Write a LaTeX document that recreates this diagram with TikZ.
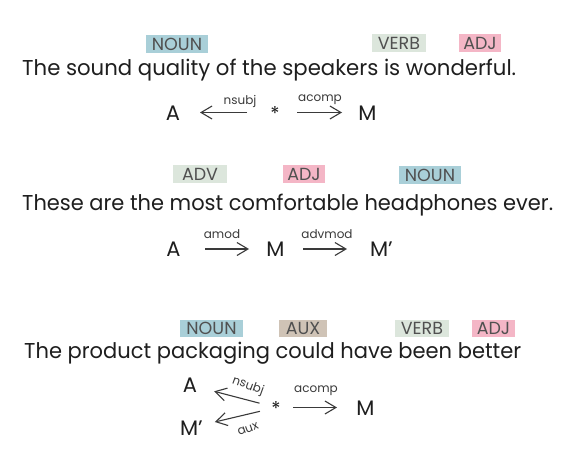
\documentclass[tikz,border=0pt]{standalone}
\usepackage{fontspec}
\setmainfont{Poppins}
\usepackage{graphicx}
\usetikzlibrary{arrows.meta}
\definecolor{nounc}{HTML}{A9CFD8}
\definecolor{verbc}{HTML}{DCE6DC}
\definecolor{adjc}{HTML}{F4B6C6}
\definecolor{auxc}{HTML}{CFC3B6}
\definecolor{tagtxt}{HTML}{505050}
\definecolor{maintxt}{HTML}{1E1E1E}
\definecolor{arrc}{HTML}{3A3A3A}
\newcommand\fitto[2]{\setbox0=\hbox{#2}\pgfmathsetmacro\fitsx{#1/\the\wd0}\scalebox{\fitsx}[1]{\box0}}
\begin{document}
\begin{tikzpicture}[x=1pt,y=-1pt,
  tag/.style={inner sep=0pt, minimum height=18pt, text=tagtxt, font=\fontsize{17.5}{17.5}\selectfont, text height=12.3pt, text depth=0pt},
  sent/.style={inner sep=0pt, anchor=base west, text=maintxt, font=\fontsize{21.5}{21.5}\selectfont},
  lett/.style={inner sep=0pt, text=maintxt, font=\fontsize{21}{21}\selectfont, text height=15pt, text depth=0pt},
  lbl/.style={inner sep=0pt, text=arrc, font=\fontsize{12}{12}\selectfont},
  starn/.style={inner sep=0pt, text=maintxt, font=\fontsize{19}{19}\selectfont, text height=0pt, text depth=0pt},
  arr/.style={draw=arrc, line width=1.1pt, -{Straight Barb[length=11pt,width=13pt,line width=1.1pt]}}
]
\useasboundingbox (0,0) rectangle (572,463);
\fill[white] (0,0) rectangle (572,463);

% ---------- sentence 1
\node[tag,fill=nounc,minimum width=62pt] (r1n) at (177,44) {NOUN};
\node[tag,fill=verbc,minimum width=54pt] (r1v) at (399,43) {VERB};
\node[tag,fill=adjc,minimum width=42pt] (r1j) at (480,43) {ADJ};
\node[sent] (s1) at (22,75) {\fitto{494}{The sound quality of the speakers is wonderful.}};
\node[lett] (a1) at (173,112.5) {A};
\node[starn] (st1) at (275,112.5) {\raisebox{-8.3pt}{*}};
\node[lett] (m1) at (367.5,112.5) {M};
\draw[arr, shorten <=28pt, shorten >=27pt] (st1.center) -- (a1.center);
\draw[arr, shorten <=22pt, shorten >=25.5pt] (st1.center) -- (m1.center);
\node[lbl, anchor=base] (l1a) at (240,104) {nsubj};
\node[lbl, anchor=base] (l1b) at (320,101) {acomp};

% ---------- sentence 2
\node[tag,fill=verbc,minimum width=54pt] (r2v) at (200,174) {ADV};
\node[tag,fill=adjc,minimum width=42pt] (r2j) at (304,174) {ADJ};
\node[tag,fill=nounc,minimum width=62pt] (r2n) at (430,175) {NOUN};
\node[sent] (s2) at (22,210) {\fitto{531}{These are the most comfortable headphones ever.}};
\node[lett] (a2) at (173.5,249) {A};
\node[lett] (m2) at (275.5,249) {M};
\node[lett] (m2p) at (381.5,249) {M'};
\draw[arr, shorten <=31.5pt, shorten >=26.5pt] (a2.center) -- (m2.center);
\draw[arr, shorten <=27.5pt, shorten >=34.5pt] (m2.center) -- (m2p.center);
\node[lbl, anchor=base] (l2a) at (222,238.5) {amod};
\node[lbl, anchor=base] (l2b) at (327,238.5) {advmod};

% ---------- sentence 3
\node[tag,fill=nounc,minimum width=63pt,minimum height=17pt] (r3n) at (211.5,328.5) {NOUN};
\node[tag,fill=auxc,minimum width=48pt,minimum height=17pt] (r3a) at (303,328.5) {AUX};
\node[tag,fill=verbc,minimum width=54pt,minimum height=17pt] (r3v) at (422,328.5) {VERB};
\node[tag,fill=adjc,minimum width=43pt,minimum height=17pt] (r3j) at (493.5,328.5) {ADJ};
\node[sent] (s3) at (24,358.5) {\fitto{497}{The product packaging could have been better}};
\node[lett] (a3) at (190,385) {A};
\node[lett] (m3p) at (191.5,427.5) {M'};
\node[starn] (st3) at (276,407.5) {\raisebox{-8.3pt}{*}};
\node[lett] (m3) at (365.5,407.5) {M};
\draw[arr, shorten <=17pt, shorten >=25pt] (st3.center) -- (a3.center);
\draw[arr, shorten <=16.5pt, shorten >=24pt] (st3.center) -- (m3p.center);
\draw[arr, shorten <=17pt, shorten >=28.5pt] (st3.center) -- (m3.center);
\node[lbl, rotate=-20] (l3a) at (248,386) {nsubj};
\node[lbl, rotate=20] (l3b) at (248,429) {aux};
\node[lbl, anchor=base] (l3c) at (316,392) {acomp};
\end{tikzpicture}
\end{document}
